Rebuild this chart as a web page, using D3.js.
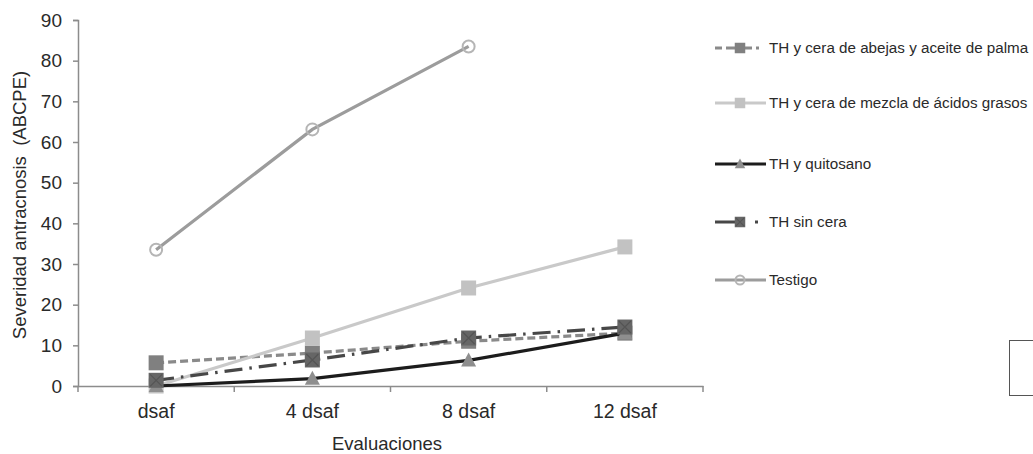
<!DOCTYPE html>
<html><head><meta charset="utf-8">
<script src="https://cdn.jsdelivr.net/npm/d3@7"></script>
<style>
body{margin:0;background:#fff;}
text{font-family:"Liberation Sans",Arial,sans-serif;}
</style></head>
<body><svg id="c" width="1033" height="454"></svg>
<script>
const categories = ["dsaf","4 dsaf","8 dsaf","12 dsaf"];
const seriesNames = ["TH y cera de abejas y aceite de palma","TH y cera de mezcla de ácidos grasos","TH y quitosano","TH sin cera","Testigo"];
const abejas = [5.7, 8.1, 11.0, 13.0];
const mezcla = [0.0, 11.8, 24.1, 34.2];
const quitosano = [0.0, 1.8, 6.3, 13.0];
const sinCera = [1.4, 6.4, 11.8, 14.5];
const testigo = [33.5, 63.1, 83.5, null];
const yTicks = [0,10,20,30,40,50,60,70,80,90];

const styles = [
  {stroke:"#8a8a8a", width:3.2, dash:"8,4", legDash:"7,4,26,4,3,20", marker:"square", fill:"#808080"},
  {stroke:"#c9c9c9", width:3.2, dash:null, legDash:null, marker:"square", fill:"#c2c2c2"},
  {stroke:"#1c1c1c", width:3.2, dash:null, legDash:null, marker:"triangle", fill:"#8e8e8e"},
  {stroke:"#474747", width:3.2, dash:"18,7,2.5,7", legDash:"20,20,3,20", marker:"xsquare", fill:"#666666"},
  {stroke:"#9c9c9c", width:3.2, dash:null, legDash:null, marker:"circle", fill:"none"}
];
const data = [abejas, mezcla, quitosano, sinCera, testigo];

const svg = d3.select("#c");
const L=78, R=703, T=20, B=386;
const x = d3.scaleBand().domain(categories).range([L,R]).padding(0);
const y = d3.scaleLinear().domain([0,90]).range([B,T]);
const cx = d => x(d)+x.bandwidth()/2;
const axisCol="#8c8c8c";
const FF="Liberation Sans, Arial, sans-serif";

// y axis
const ya = svg.append("g").attr("transform",`translate(${L},0)`)
  .call(d3.axisLeft(y).tickValues(yTicks).tickSize(5).tickPadding(11));
ya.select(".domain").attr("stroke",axisCol).attr("stroke-width",1.5);
ya.selectAll(".tick line").attr("stroke",axisCol).attr("stroke-width",1.5);
ya.selectAll(".tick text").attr("fill","#2a2a2a").style("font-size","19px").style("font-family",FF);

// x axis
const xa = svg.append("g").attr("transform",`translate(0,${B})`)
  .call(d3.axisBottom(x).tickSize(0).tickPadding(18));
xa.select(".domain").attr("stroke",axisCol).attr("stroke-width",1.5);
xa.selectAll(".tick text").attr("fill","#2a2a2a").style("font-size","19.5px").style("font-family",FF);
const bounds = categories.map(c=>x(c)).concat([R]);
xa.selectAll("line.bt").data(bounds).enter().append("line").attr("class","bt")
  .attr("x1",d=>d).attr("x2",d=>d).attr("y1",0).attr("y2",6)
  .attr("stroke",axisCol).attr("stroke-width",1.5);

// titles
svg.append("text").attr("transform",`translate(26,${(T+B)/2+2}) rotate(-90)`)
  .attr("text-anchor","middle").attr("fill","#2a2a2a").style("font-size","18.5px")
  .text("Severidad antracnosis\u00a0 (ABCPE)");
svg.append("text").attr("x",387).attr("y",450).attr("text-anchor","middle")
  .attr("fill","#2a2a2a").style("font-size","18.5px").text("Evaluaciones");

function drawMarker(g, type, px, py, st, s){
  s = s||1;
  if(type==="square"){
    g.append("rect").attr("x",px-7.5*s).attr("y",py-7.5*s).attr("width",15*s).attr("height",15*s)
      .attr("fill",st.fill);
  } else if(type==="xsquare"){
    g.append("rect").attr("x",px-7.5*s).attr("y",py-7.5*s).attr("width",15*s).attr("height",15*s)
      .attr("fill",st.fill);
    g.append("path").attr("d",`M${px-6*s},${py-6*s}L${px+6*s},${py+6*s}M${px+6*s},${py-6*s}L${px-6*s},${py+6*s}`)
      .attr("stroke","#555").attr("stroke-width",1.2);
  } else if(type==="triangle"){
    g.append("path").attr("d",`M${px},${py-8*s}L${px+7.5*s},${py+6*s}L${px-7.5*s},${py+6*s}Z`)
      .attr("fill",st.fill);
  } else if(type==="circle"){
    g.append("circle").attr("cx",px).attr("cy",py).attr("r",6*s)
      .attr("fill","none").attr("stroke","#b5b5b5").attr("stroke-width",2);
  }
}

const line = d3.line().defined(d=>d.v!=null).x(d=>cx(d.c)).y(d=>y(d.v));
data.forEach((arr,i)=>{
  const st = styles[i];
  const pts = categories.map((c,j)=>({c, v:arr[j]}));
  const g = svg.append("g");
  g.append("path").datum(pts).attr("d",line).attr("fill","none")
    .attr("stroke",st.stroke).attr("stroke-width",st.width)
    .attr("stroke-dasharray",st.dash);
  pts.filter(p=>p.v!=null).forEach(p=>drawMarker(g, st.marker, cx(p.c), y(p.v), st));
});

// legend
const legY = [48,103,164,222,280];
seriesNames.forEach((n,i)=>{
  const st = styles[i];
  const g = svg.append("g");
  const ly = legY[i];
  g.append("line").attr("x1",715).attr("x2",766).attr("y1",ly).attr("y2",ly)
    .attr("stroke",st.stroke).attr("stroke-width",st.width)
    .attr("stroke-dasharray", st.legDash);
  drawMarker(g, st.marker, 740, ly, st, i===4?0.75:0.7);
  g.append("text").attr("x",769).attr("y",ly+5).attr("fill","#2a2a2a").style("font-size","15.2px").text(n);
});

// partial box at right edge
svg.append("rect").attr("x",1009.5).attr("y",340.5).attr("width",40).attr("height",55)
  .attr("fill","none").attr("stroke","#555").attr("stroke-width",1);
</script></body></html>
